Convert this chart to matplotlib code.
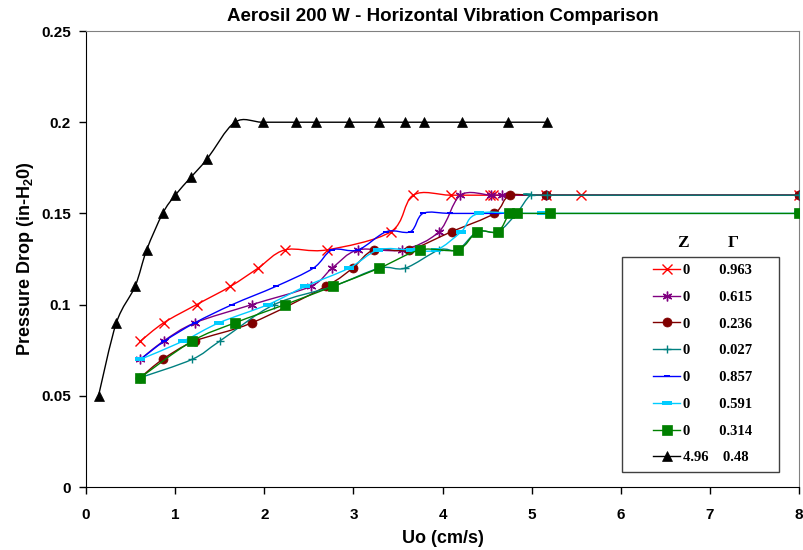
import numpy as np
import matplotlib
matplotlib.use("Agg")
import matplotlib.pyplot as plt
from matplotlib.path import Path
from matplotlib.patches import PathPatch, Rectangle
from matplotlib.lines import Line2D

plt.rcParams['font.family'] = ['Liberation Sans', 'DejaVu Sans']
plt.rcParams['mathtext.fontset'] = 'custom'
plt.rcParams['mathtext.rm'] = 'Liberation Sans:bold'
plt.rcParams['mathtext.default'] = 'rm'

# dados (Uo em cm/s, queda de pressão em in-H2O)
red_x = [0.61, 0.87, 1.24, 1.62, 1.93, 2.23, 2.70, 3.42, 3.67, 4.09, 4.53, 4.57, 5.16, 5.55, 8.0]
red_y = [0.08, 0.09, 0.10, 0.11, 0.12, 0.13, 0.13, 0.14, 0.16, 0.16, 0.16, 0.16, 0.16, 0.16, 0.16]

purple_x = [0.61, 0.87, 1.22, 1.86, 2.52, 2.76, 3.05, 3.55, 3.96, 4.20, 4.54, 4.67, 5.16, 8.0]
purple_y = [0.07, 0.08, 0.09, 0.10, 0.11, 0.12, 0.13, 0.13, 0.14, 0.16, 0.16, 0.16, 0.16, 0.16]

darkred_x = [0.61, 0.86, 1.22, 1.86, 2.69, 2.99, 3.23, 3.62, 4.10, 4.58, 4.76, 5.16, 8.0]
darkred_y = [0.06, 0.07, 0.08, 0.09, 0.11, 0.12, 0.13, 0.13, 0.14, 0.15, 0.16, 0.16, 0.16]

teal_x = [0.61, 1.19, 1.50, 2.11, 2.77, 3.29, 3.58, 3.96, 4.17, 4.39, 4.62, 4.83, 4.99, 5.17, 8.0]
teal_y = [0.06, 0.07, 0.08, 0.10, 0.11, 0.12, 0.12, 0.13, 0.13, 0.14, 0.14, 0.15, 0.16, 0.16, 0.16]

blue_x = [0.61, 0.88, 1.22, 1.64, 2.13, 2.55, 2.76, 3.05, 3.37, 3.64, 3.78, 4.08, 4.41, 4.66]
blue_y = [0.07, 0.08, 0.09, 0.10, 0.11, 0.12, 0.13, 0.13, 0.14, 0.14, 0.15, 0.15, 0.15, 0.15]

cyan_x = [0.61, 1.09, 1.49, 2.04, 2.46, 2.95, 3.28, 3.65, 3.93, 4.21, 4.41, 5.12, 8.0]
cyan_y = [0.07, 0.08, 0.09, 0.10, 0.11, 0.12, 0.13, 0.13, 0.13, 0.14, 0.15, 0.15, 0.15]

green_x = [0.61, 1.19, 1.67, 2.23, 2.77, 3.29, 3.75, 4.17, 4.39, 4.62, 4.75, 4.83, 5.21, 8.0]
green_y = [0.06, 0.08, 0.09, 0.10, 0.11, 0.12, 0.13, 0.13, 0.14, 0.14, 0.15, 0.15, 0.15, 0.15]

black_x = [0.14, 0.34, 0.55, 0.68, 0.86, 1.00, 1.18, 1.36, 1.67, 1.98, 2.36, 2.58, 2.95,
           3.29, 3.58, 3.79, 4.22, 4.73, 5.17]
black_y = [0.05, 0.09, 0.11, 0.13, 0.15, 0.16, 0.17, 0.18, 0.20, 0.20, 0.20, 0.20, 0.20,
           0.20, 0.20, 0.20, 0.20, 0.20, 0.20]

z_labels = ['0', '0', '0', '0', '0', '0', '0', '4.96']
gamma_labels = ['0.963', '0.615', '0.236', '0.027', '0.857', '0.591', '0.314', '0.48']

# marcador retangular (tipo "traço" do Excel)
bar_marker = Path([(-1, -0.4), (1, -0.4), (1, 0.4), (-1, 0.4), (-1, -0.4)],
                  [Path.MOVETO, Path.LINETO, Path.LINETO, Path.LINETO, Path.CLOSEPOLY])

series = [
    (red_x, red_y, dict(color='#FF0000', marker='x', ms=6.5, mew=1.0)),
    (purple_x, purple_y, dict(color='#800080', marker=(6, 2, 0), ms=7, mew=1.0)),
    (darkred_x, darkred_y, dict(color='#800000', marker='o', ms=6.5, mew=0.5)),
    (teal_x, teal_y, dict(color='#008080', marker='+', ms=6, mew=1.0)),
    (blue_x, blue_y, dict(color='#0000FF', marker=bar_marker, ms=4.5, mew=0)),
    (cyan_x, cyan_y, dict(color='#00CCFF', marker=bar_marker, ms=6.5, mew=0)),
    (green_x, green_y, dict(color='#008000', marker='s', ms=7, mew=0.5)),
    (black_x, black_y, dict(color='#000000', marker='^', ms=6.5, mew=0.5)),
]


# linha suavizada como no Excel (Catmull-Rom -> Bezier)
def linha_suave(x, y):
    pts = np.column_stack([x, y])
    n = len(pts)
    verts = [pts[0]]
    codes = [Path.MOVETO]
    for i in range(n - 1):
        p0 = pts[i - 1] if i > 0 else pts[i]
        p1 = pts[i]
        p2 = pts[i + 1]
        p3 = pts[i + 2] if i + 2 < n else pts[i + 1]
        verts += [p1 + (p2 - p0) / 6, p2 - (p3 - p1) / 6, p2]
        codes += [Path.CURVE4] * 3
    return Path(verts, codes)


fig = plt.figure(figsize=(8.04, 5.50), dpi=100)
ax = fig.add_axes([0.107, 0.1145, 0.887, 0.8291])

handles = []
for i, (x, y, st) in enumerate(series):
    ax.add_patch(PathPatch(linha_suave(x, y), facecolor='none', edgecolor=st['color'],
                           lw=1.0, zorder=3 + i * 0.1))
    ax.plot(x, y, ls='none', marker=st['marker'], ms=st['ms'], color=st['color'],
            mec=st['color'], mew=st['mew'], zorder=3.05 + i * 0.1)
    handles.append(Line2D([], [], color=st['color'], lw=1.0, marker=st['marker'],
                          ms=st['ms'], mec=st['color'], mew=st['mew']))

ax.set_xlim(0, 8)
ax.set_ylim(0, 0.25)
ax.set_xticks(range(0, 9))
ax.set_yticks([0, 0.05, 0.1, 0.15, 0.2, 0.25])
ax.set_yticklabels(['0', '0.05', '0.1', '0.15', '0.2', '0.25'])
ax.tick_params(direction='out', length=5, width=1, labelsize=11)
ax.tick_params(axis='x', pad=10)
ax.tick_params(axis='y', pad=6)
for lab in ax.get_xticklabels() + ax.get_yticklabels():
    lab.set_fontweight('bold')

for s in ['left', 'bottom']:
    ax.spines[s].set_color('black')
for s in ['top', 'right']:
    ax.spines[s].set_color('#808080')

ax.set_title('Aerosil 200 W - Horizontal Vibration Comparison', fontsize=13.5,
             fontweight='bold', pad=7)
ax.set_xlabel('Uo (cm/s)', fontsize=13, fontweight='bold')
ax.set_ylabel('Pressure Drop (in-H$_2$0)', fontsize=13, fontweight='bold')
ax.xaxis.set_label_coords(0.5, -0.095)
ax.yaxis.set_label_coords(-0.07, 0.5)

# legenda com duas colunas (Z e Gamma)
labels = []
for z, g in zip(z_labels, gamma_labels):
    pad = 8 if len(z) == 1 else 4
    labels.append(z + ' ' * pad + g)

ax.add_patch(Rectangle((0.752, 0.033), 0.220, 0.471, transform=ax.transAxes,
                       facecolor='white', edgecolor='#404040', lw=1.0, zorder=5))
leg = ax.legend(handles, labels, loc='upper left', bbox_to_anchor=(0.789, 0.499),
                frameon=False, borderpad=0.3, borderaxespad=0, handlelength=1.85,
                handletextpad=0.2, labelspacing=0.93,
                prop={'family': 'Liberation Serif', 'weight': 'bold', 'size': 10.5})
leg.set_zorder(6)

ax.text(0.837, 0.535, 'Z', transform=ax.transAxes, ha='center', va='center',
        fontsize=12.5, fontweight='bold', family='Liberation Serif')
ax.text(0.907, 0.535, 'Γ', transform=ax.transAxes, ha='center', va='center',
        fontsize=12.5, fontweight='bold', family='Liberation Serif')

fig.savefig('out.png', dpi=100)
